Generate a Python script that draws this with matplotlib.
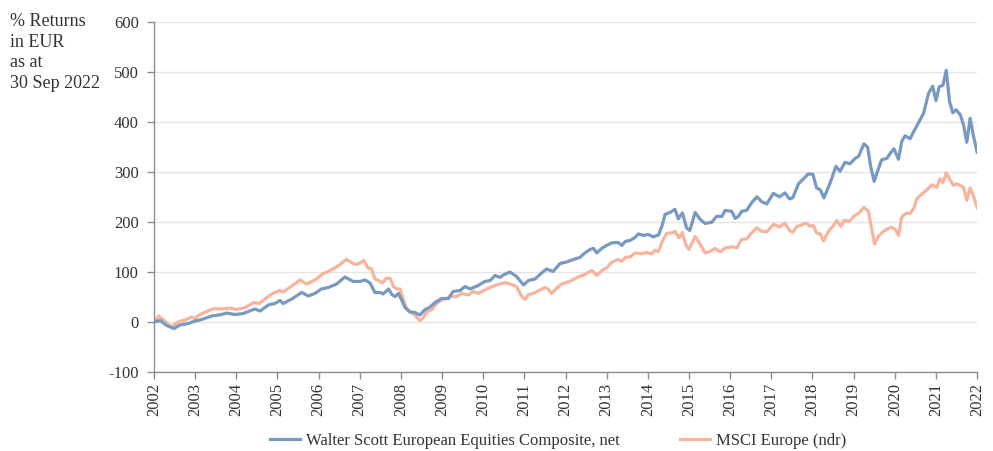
import matplotlib

matplotlib.use("Agg")
import matplotlib.pyplot as plt

plt.rcParams["font.family"] = ["Liberation Serif", "DejaVu Serif"]

# Walter Scott European Equities Composite, net (% cumulative return)
ws_x = [
    2002.00, 2002.15, 2002.31, 2002.49, 2002.63, 2002.83, 2003.00, 2003.16, 2003.40, 2003.64,
    2003.77, 2003.97, 2004.17, 2004.45, 2004.58, 2004.78, 2004.94, 2005.06, 2005.14, 2005.35,
    2005.59, 2005.75, 2005.91, 2006.07, 2006.24, 2006.44, 2006.64, 2006.84, 2007.01, 2007.13,
    2007.25, 2007.37, 2007.49, 2007.57, 2007.70, 2007.78, 2007.86, 2007.94, 2008.02, 2008.10,
    2008.22, 2008.34, 2008.46, 2008.59, 2008.71, 2008.83, 2008.99, 2009.15, 2009.27, 2009.44,
    2009.56, 2009.68, 2009.88, 2010.04, 2010.17, 2010.29, 2010.41, 2010.49, 2010.65, 2010.81,
    2010.98, 2011.10, 2011.26, 2011.42, 2011.54, 2011.70, 2011.87, 2012.03, 2012.19, 2012.35,
    2012.47, 2012.60, 2012.68, 2012.76, 2012.88, 2013.00, 2013.12, 2013.28, 2013.37, 2013.45,
    2013.57, 2013.69, 2013.77, 2013.89, 2014.01, 2014.13, 2014.26, 2014.34, 2014.42, 2014.54,
    2014.66, 2014.74, 2014.84, 2014.94, 2015.02, 2015.15, 2015.27, 2015.39, 2015.55, 2015.67,
    2015.80, 2015.88, 2016.04, 2016.12, 2016.20, 2016.28, 2016.40, 2016.52, 2016.65, 2016.77,
    2016.89, 2017.05, 2017.20, 2017.33, 2017.44, 2017.52, 2017.66, 2017.78, 2017.90, 2018.01,
    2018.10, 2018.19, 2018.28, 2018.43, 2018.57, 2018.67, 2018.79, 2018.91, 2019.04, 2019.12,
    2019.25, 2019.34, 2019.42, 2019.50, 2019.58, 2019.68, 2019.81, 2019.89, 2019.98, 2020.09,
    2020.17, 2020.25, 2020.37, 2020.45, 2020.57, 2020.70, 2020.82, 2020.92, 2021.00, 2021.08,
    2021.17, 2021.25, 2021.33, 2021.41, 2021.49, 2021.59, 2021.67, 2021.75, 2021.83, 2021.91,
    2022.00,
]
ws_y = [
    0, 3, -7, -13, -6, -3, 2, 5, 12, 15,
    18, 15, 17, 26, 22, 34, 37, 43, 37, 46,
    59, 52, 57, 66, 69, 76, 90, 81, 81, 84,
    78, 59, 59, 56, 66, 55, 51, 57, 44, 29,
    20, 19, 14, 25, 30, 39, 47, 47, 61, 63,
    71, 66, 73, 81, 83, 93, 89, 94, 100, 91,
    74, 83, 86, 98, 106, 101, 117, 120, 125, 129,
    138, 145, 147, 138, 147, 153, 158, 159, 153, 161,
    163, 169, 176, 173, 175, 170, 174, 191, 215, 219,
    225, 206, 218, 188, 183, 219, 205, 197, 199, 211,
    211, 223, 221, 207, 211, 221, 223, 238, 250, 240,
    236, 257, 250, 258, 246, 248, 276, 286, 296, 295,
    268, 264, 248, 278, 311, 301, 319, 316, 327, 331,
    356, 349, 308, 281, 301, 324, 327, 337, 346, 325,
    361, 372, 366, 379, 397, 417, 457, 471, 442, 470,
    473, 503, 440, 418, 424, 414, 394, 359, 407, 372,
    339,
]

# MSCI Europe (ndr)
msci_x = [
    2002.00, 2002.12, 2002.26, 2002.42, 2002.58, 2002.79, 2002.91, 2002.99, 2003.12, 2003.36,
    2003.48, 2003.64, 2003.85, 2004.01, 2004.22, 2004.43, 2004.55, 2004.67, 2004.84, 2005.06,
    2005.14, 2005.30, 2005.55, 2005.71, 2005.91, 2006.12, 2006.28, 2006.44, 2006.68, 2006.88,
    2007.00, 2007.10, 2007.20, 2007.29, 2007.37, 2007.45, 2007.55, 2007.65, 2007.74, 2007.82,
    2007.90, 2007.98, 2008.06, 2008.14, 2008.26, 2008.34, 2008.45, 2008.53, 2008.63, 2008.75,
    2008.87, 2008.99, 2009.11, 2009.23, 2009.36, 2009.48, 2009.64, 2009.76, 2009.88, 2010.04,
    2010.17, 2010.29, 2010.41, 2010.53, 2010.65, 2010.81, 2010.94, 2011.02, 2011.10, 2011.22,
    2011.38, 2011.50, 2011.58, 2011.66, 2011.79, 2011.91, 2012.03, 2012.15, 2012.31, 2012.47,
    2012.64, 2012.76, 2012.88, 2013.00, 2013.12, 2013.28, 2013.37, 2013.45, 2013.57, 2013.69,
    2013.85, 2013.97, 2014.09, 2014.17, 2014.26, 2014.35, 2014.46, 2014.58, 2014.66, 2014.76,
    2014.84, 2014.92, 2015.00, 2015.15, 2015.27, 2015.39, 2015.51, 2015.63, 2015.76, 2015.88,
    2016.04, 2016.16, 2016.28, 2016.40, 2016.52, 2016.65, 2016.77, 2016.89, 2017.05, 2017.20,
    2017.33, 2017.44, 2017.52, 2017.62, 2017.74, 2017.84, 2017.94, 2018.02, 2018.10, 2018.19,
    2018.27, 2018.39, 2018.51, 2018.59, 2018.69, 2018.77, 2018.90, 2019.00, 2019.12, 2019.25,
    2019.36, 2019.44, 2019.51, 2019.60, 2019.72, 2019.82, 2019.93, 2020.01, 2020.09, 2020.17,
    2020.27, 2020.37, 2020.47, 2020.53, 2020.66, 2020.78, 2020.90, 2021.02, 2021.10, 2021.17,
    2021.25, 2021.33, 2021.42, 2021.50, 2021.59, 2021.67, 2021.75, 2021.83, 2021.91, 2022.00,
]
msci_y = [
    0, 12, 2, -10, 0, 5, 10, 7, 15, 24,
    27, 26, 28, 25, 29, 39, 37, 44, 55, 63,
    60, 69, 84, 76, 84, 97, 103, 110, 125, 115,
    117, 123, 108, 106, 86, 83, 78, 88, 87, 71,
    66, 66, 44, 27, 18, 14, 3, 7, 20, 25,
    37, 44, 47, 51, 51, 57, 54, 61, 57, 64,
    69, 73, 76, 79, 76, 71, 51, 45, 55, 57,
    64, 69, 66, 57, 68, 76, 79, 83, 90, 95,
    103, 93, 103, 108, 119, 125, 121, 129, 130, 138,
    136, 139, 136, 143, 141, 161, 177, 178, 181, 168,
    179, 155, 145, 171, 155, 138, 141, 147, 140, 148,
    150, 148, 165, 166, 178, 188, 181, 180, 195, 190,
    197, 183, 179, 191, 194, 198, 191, 193, 178, 176,
    162, 181, 193, 203, 191, 203, 201, 211, 217, 229,
    221, 185, 156, 171, 181, 186, 189, 185, 173, 210,
    217, 217, 228, 245, 256, 264, 274, 269, 286, 278,
    298, 286, 273, 276, 273, 269, 243, 268, 252, 228,
]

years = list(range(2002, 2023))
y_ticks = [-100, 0, 100, 200, 300, 400, 500, 600]

BLUE = "#7799c2"
SALMON = "#f8b39c"
TEXT = "#333333"

fig = plt.figure(figsize=(9.93, 4.51), dpi=100)
ax = fig.add_axes([0.155, 0.175, 0.829, 0.777])

ax.plot(ws_x, ws_y, color=BLUE, linewidth=2.3,
        label="Walter Scott European Equities Composite, net", zorder=3)
ax.plot(msci_x, msci_y, color=SALMON, linewidth=2.3,
        label="MSCI Europe (ndr)", zorder=2)

ax.set_xlim(2002, 2022)
ax.set_ylim(-100, 600)
ax.set_yticks(y_ticks)
ax.set_yticklabels([str(v) for v in y_ticks])
ax.set_xticks(years)
ax.set_xticklabels([str(y) for y in years], rotation=90)

ax.grid(axis="y", color="#e4e4e4", linewidth=1.0, zorder=0)
ax.set_axisbelow(True)
for side in ("top", "right"):
    ax.spines[side].set_visible(False)
for side in ("left", "bottom"):
    ax.spines[side].set_color("#8c8c8c")
    ax.spines[side].set_linewidth(1.0)

ax.tick_params(axis="y", length=5, width=1.0, color="#8c8c8c", pad=6,
               labelsize=12, labelcolor=TEXT)
ax.tick_params(axis="x", length=5, width=1.0, color="#8c8c8c", pad=3,
               labelsize=12, labelcolor=TEXT)

fig.text(0.01, 0.972, "% Returns\nin EUR\nas at\n30 Sep 2022",
         ha="left", va="top", fontsize=13, color=TEXT, linespacing=1.3)

fig.legend(loc="center", bbox_to_anchor=(0.562, 0.022), ncol=2, frameon=False,
           fontsize=12, handlelength=1.8, columnspacing=3.6,
           handletextpad=0.35, labelcolor=TEXT)

fig.savefig("out.png", dpi=100)
